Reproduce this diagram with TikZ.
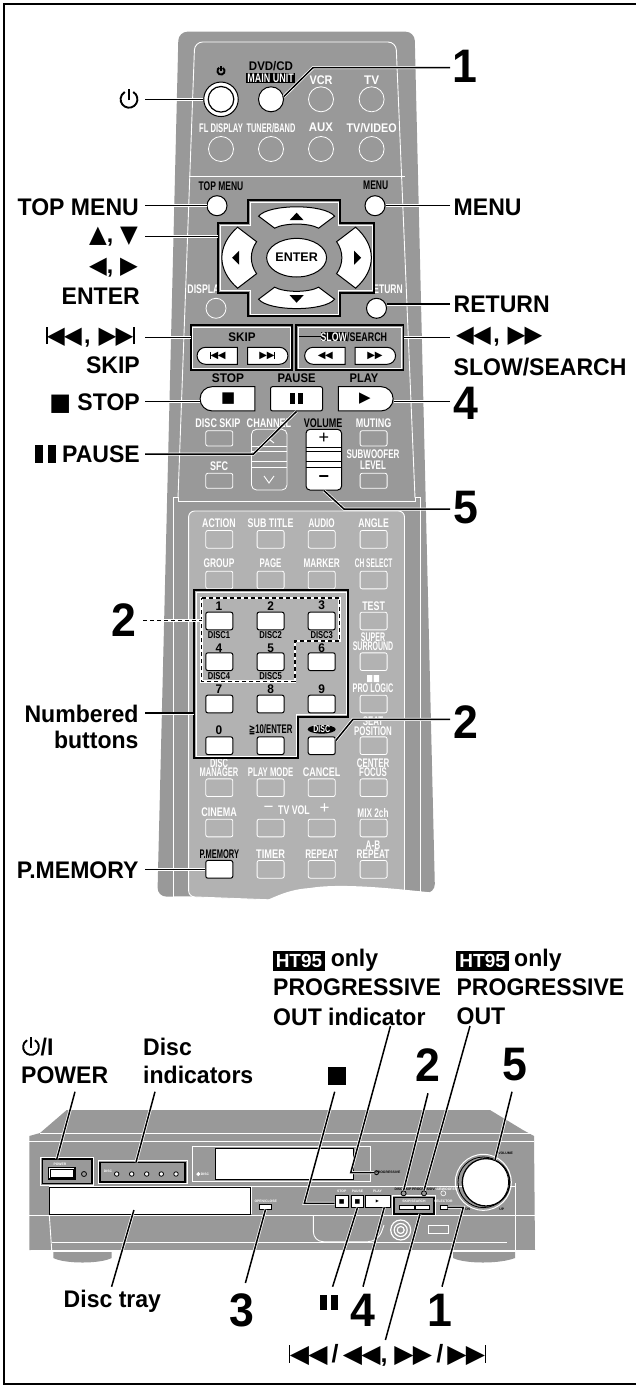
\documentclass[tikz,border=0pt]{standalone}
\usepackage{fontspec}
\setmainfont{Liberation Sans}
\newfontfamily\symfont{DejaVu Sans}
\usetikzlibrary{shapes.geometric, shapes.misc}
\definecolor{bodygray}{RGB}{153,153,153}
\definecolor{panelgray}{RGB}{178,178,178}
\newcommand{\glyphup}{{\symfont ▲}}
\newcommand{\glyphdown}{{\symfont ▼}}
\newcommand{\glyphleft}{{\symfont ◀}}
\newcommand{\glyphright}{{\symfont ▶}}
\newcommand{\glyphstop}{{\symfont ■}}
\newcommand{\rewtwo}{\glyphleft\kern-.03em\glyphleft}
\newcommand{\fwdtwo}{\glyphright\kern-.03em\glyphright}
\newcommand{\skipback}{\rule[-.02em]{.07em}{.72em}\kern-.02em\rewtwo}
\newcommand{\skipnext}{\fwdtwo\kern-.02em\rule[-.02em]{.07em}{.72em}}
\newcommand{\pausebars}{\rule{.34em}{.72em}\kern.2em\rule{.34em}{.72em}}
\tikzset{
    every node/.style={inner sep=0pt, font=\bfseries},
    biglab/.style={anchor=east, font=\bfseries\fontsize{24}{24}\selectfont, align=right, transform shape, xscale=.96},
    bigleft/.style={anchor=west, font=\bfseries\fontsize{24}{24}\selectfont, transform shape, xscale=.96},
    bignum/.style={font=\bfseries\fontsize{47}{47}\selectfont, transform shape, xscale=.95},
    lab/.style={text=white, font=\bfseries\fontsize{12.5}{12.5}\selectfont, align=center, transform shape, xscale=#1},
    lab/.default=.7,
    blab/.style={text=black, font=\bfseries\fontsize{12.5}{12.5}\selectfont, transform shape, xscale=#1},
    blab/.default=.9,
    disclab/.style={text=black, font=\bfseries\fontsize{10}{10}\selectfont, transform shape, xscale=.76},
    tinylab/.style={font=\bfseries\fontsize{3.4}{3.4}\selectfont},
    keybtn/.style={rectangle, rounded corners=2pt, draw=white, line width=.8pt, minimum width=27pt, minimum height=17.7pt},
    whitebtn/.style={keybtn, fill=white, draw=black, line width=1pt},
    roundbtn/.style={circle, draw=white, line width=.8pt, minimum size=25pt},
    whiteround/.style={roundbtn, fill=white, draw=black, line width=1pt},
    pillbtn/.style={rounded rectangle, fill=white, draw=black, line width=1pt, minimum height=17pt, minimum width=40.4pt, font=\fontsize{10}{10}\selectfont},
    bigbtn/.style={fill=white, draw=black, line width=1pt, minimum height=24.3pt, minimum width=54.8pt, font=\fontsize{15}{15}\selectfont},
    unitbtn/.style={rectangle, fill=white, draw=black, line width=.8pt, font=\fontsize{4}{4}\selectfont},
    led/.style={circle, fill=bodygray, draw=black, line width=.8pt, minimum size=5pt},
    lead/.style={draw=black, line width=1.5pt, line join=miter, preaction={draw=white, line width=3pt}},
    dashlead/.style={draw=black, line width=1.4pt, dash pattern=on 4pt off 3pt, preaction={draw=white, solid, line width=2.6pt}},
    frameblack/.style={draw=black, line width=1.6pt},
    framewhite/.style={draw=white, line width=.8pt},
    thinw/.style={draw=white, line width=.9pt},
    standby/.pic={
        \draw[line width=1.9pt, pic actions] (-60:8) arc[start angle=-60, end angle=240, radius=8];
        \draw[line width=1.9pt, pic actions] (0,1) -- (0,-10);
    }
}
\begin{document}
\begin{tikzpicture}[x=1pt, y=-1pt]
\useasboundingbox (0,0) rectangle (636,1388);
\fill[white] (0,0) rectangle (636,1388);
\draw[line width=2.4pt] (4,4) rectangle (639,1384);

% remote body
\fill[bodygray, rounded corners=9pt] (157.4,896.7) -- (178.5,31.7) -- (414.6,31.7) -- (435,893) -- cycle;
\draw[thinw, rounded corners=8pt] (178,498) -- (194.7,42) -- (396,42) -- (415,498);
\draw[thinw] (188.6,176.7) -- (404.5,176.7);
\draw[thinw] (173,900) -- (173,497) -- (178,497) -- (178,501.7) -- (415,501.7) -- (415,497) -- (420,497) -- (420,892);
\filldraw[fill=panelgray, draw=white, line width=.9pt, rounded corners=6pt] (188.6,896.7) -- (188.6,511) -- (404.5,511) -- (404.5,905) -- cycle;
\fill[white] (157.4,896.7) .. controls (190,906) and (225,912) .. (243,908) .. controls (270,902) and (280,890) .. (310,888) .. controls (340,883) and (390,888) .. (436,893) -- (436,925) -- (150,925) -- cycle;

% top buttons
\node[lab=.87] (labVcr) at (321,80) {VCR};
\node[lab=.94] (labTv) at (371.6,80) {TV};
\node[blab=.92] (labDvd) at (271,65.7) {DVD/CD};
\fill[black] (246,73.3) rectangle (295,82.7);
\node[lab=.72] (labMain) at (270.6,78) {MAIN UNIT};
\pic[draw=black, scale=.45, line width=.6pt] at (221,71) {standby};
\node[whiteround, minimum size=34.5pt] (btnPowerRing) at (221,99.3) {};
\node[whiteround, minimum size=25.6pt, line width=1.2pt] (btnPower) at (221,99.3) {};
\node[whiteround] (btnMain) at (271,99.3) {};
\node[roundbtn] (btnVcr) at (321,99.3) {};
\node[roundbtn] (btnTv) at (371.6,99.3) {};
\node[lab=.61] (labFl) at (221,127.7) {FL DISPLAY};
\node[lab=.59] (labTuner) at (271,127.7) {TUNER/BAND};
\node[lab=.91] (labAux) at (321,127.7) {AUX};
\node[lab=.86] (labTvv) at (371.6,127.7) {TV/VIDEO};
\node[roundbtn] (btnFl) at (221,149) {};
\node[roundbtn] (btnTuner) at (271,149) {};
\node[roundbtn] (btnAux) at (321,149) {};
\node[roundbtn] (btnTvv) at (371.6,149) {};

% menu buttons and cursor pad
\node[blab=.68] (labTop) at (221,185.7) {TOP MENU};
\node[blab=.68] (labMenu) at (375.7,185.7) {MENU};
\node[whiteround, minimum size=20pt] (btnTop) at (217,205.7) {};
\node[whiteround, minimum size=20pt] (btnMenu) at (375,205.7) {};
\node[lab=.7] (labDisplay) at (206,289) {DISPLAY};
\node[lab=.68] (labReturn) at (385,289) {RETURN};
\node[roundbtn, minimum size=20pt] (btnDisplay) at (216,308.3) {};
\node[whiteround, minimum size=20pt] (btnReturn) at (376.5,308.3) {};
\fill[bodygray] (248,200) -- (340,200) -- (340,223.3) -- (374,223.3) -- (374,292.7) -- (340,292.7) -- (340,316) -- (248,316) -- (248,292.7) -- (218,292.7) -- (218,223.3) -- (248,223.3) -- cycle;
\draw[framewhite] (250,202) -- (338,202) -- (338,225.3) -- (372,225.3) -- (372,290.7) -- (338,290.7) -- (338,314) -- (250,314) -- (250,290.7) -- (220,290.7) -- (220,225.3) -- (250,225.3) -- cycle;
\draw[frameblack] (248,200) -- (340,200) -- (340,223.3) -- (374,223.3) -- (374,292.7) -- (340,292.7) -- (340,316) -- (248,316) -- (248,292.7) -- (218,292.7) -- (218,223.3) -- (248,223.3) -- cycle;
\begin{scope}[shift={(296.6,257.7)}]
\filldraw[fill=white, line width=1pt] (-38,-41.5) .. controls (-28,-54) and (28,-54) .. (38,-41.5) -- (22,-29.5) .. controls (12,-35) and (-12,-35) .. (-22,-29.5) -- cycle;
\filldraw[fill=white, line width=1pt] (-38,41.5) .. controls (-28,54) and (28,54) .. (38,41.5) -- (22,29.5) .. controls (12,35) and (-12,35) .. (-22,29.5) -- cycle;
\filldraw[fill=white, line width=1pt] (-59,-30.5) .. controls (-80,-12) and (-80,12) .. (-59,30.5) -- (-40,16) .. controls (-47,6) and (-47,-6) .. (-40,-16) -- cycle;
\filldraw[fill=white, line width=1pt] (59,-30.5) .. controls (80,-12) and (80,12) .. (59,30.5) -- (40,16) .. controls (47,6) and (47,-6) .. (40,-16) -- cycle;
\fill (0,-45) -- (7,-37.5) -- (-7,-37.5) -- cycle;
\fill (0,45) -- (7,37.5) -- (-7,37.5) -- cycle;
\fill (-64.5,0) -- (-57.5,-7) -- (-57.5,7) -- cycle;
\fill (64.5,0) -- (57.5,-7) -- (57.5,7) -- cycle;
\end{scope}
\node[ellipse, fill=white, draw=black, line width=1pt, minimum width=56.8pt, minimum height=38.6pt, font=\bfseries\fontsize{12.5}{12.5}\selectfont] (btnEnter) at (296.6,257.7) {ENTER};

% skip and search
\draw[framewhite] (192.7,327) rectangle (290,368);
\draw[framewhite] (298,327) rectangle (401.6,368);
\draw[frameblack] (190.7,325) rectangle (292,370);
\draw[frameblack] (296,325) rectangle (403.6,370);
\node[blab=.93] (labSkip) at (242,336.7) {SKIP};
\draw[line width=1pt] (299,336.7) -- (320.5,336.7);
\fill[black] (320.5,332) rectangle (347,341.4);
\node[lab=.7] (labSlow) at (333.7,336.7) {SLOW};
\node[blab=.71, anchor=west] (labSearch) at (347,336.7) {/SEARCH};
\node[pillbtn, rounded rectangle east arc=none] (btnPrev) at (217.8,355.8) {\skipback};
\node[pillbtn, rounded rectangle west arc=none] (btnNext) at (267.2,355.8) {\skipnext};
\node[pillbtn, rounded rectangle east arc=none] (btnRew) at (325.3,355.8) {\rewtwo};
\node[pillbtn, rounded rectangle west arc=none] (btnFwd) at (374.9,355.8) {\fwdtwo};

% transport row
\node[blab=.95] (labStop) at (228,377.7) {STOP};
\node[blab=.9] (labPause) at (296.6,377.7) {PAUSE};
\node[blab=.89] (labPlay) at (364,377.7) {PLAY};
\node[bigbtn, rounded rectangle, rounded rectangle east arc=none] (btnStop) at (228.2,398.8) {\glyphstop};
\node[bigbtn, rectangle, rounded corners=2pt, minimum width=52pt] (btnPause) at (296.5,398.8) {\pausebars};
\node[bigbtn, rounded rectangle, rounded rectangle west arc=none] (btnPlay) at (365,398.8) {\glyphright};

% lower part of upper panel
\node[lab=.72] (labDskip) at (218,422.7) {DISC SKIP};
\node[lab=.73] (labChannel) at (269,422.7) {CHANNEL};
\node[blab=.72] (labVolume) at (323,422.7) {VOLUME};
\node[lab=.72] (labMuting) at (373.6,422.7) {MUTING};
\node[keybtn, minimum height=15.3pt] (btnDskip) at (219.3,438.4) {};
\node[keybtn, minimum height=15.3pt] (btnMuting) at (373.6,438.4) {};
\node[lab=.72] (labSfc) at (219,466) {SFC};
\node[lab=.64] (labSub) at (373,459.8) {SUBWOOFER\\[-.9pt]LEVEL};
\node[keybtn, minimum height=15pt] (btnSfc) at (219.3,480.8) {};
\node[keybtn, minimum height=15pt] (btnLevel) at (373.6,480.8) {};
\draw[framewhite, rounded corners=5pt] (251.5,429.3) rectangle (287,490);
\draw[thinw] (251.5,446.7) -- (287,446.7) (251.5,451.7) -- (287,451.7) (251.5,461.7) -- (287,461.7) (251.5,467.7) -- (287,467.7);
\draw[thinw] (264,443) -- (269,439) -- (274,443) (264,476) -- (269,483) -- (274,476);
\node[rectangle, rounded corners=4pt, fill=white, draw=black, line width=1pt, minimum width=35.6pt, minimum height=60.7pt] (btnVolume) at (323.8,459.7) {};
\draw[line width=.9pt] (306,447.3) -- (341.6,447.3) (306,451.7) -- (341.6,451.7) (306,461.7) -- (341.6,461.7) (306,467.7) -- (341.6,467.7);
\node[font=\fontsize{18}{18}\selectfont] (labPlus) at (323.8,438) {+};
\node[font=\bfseries\fontsize{18}{18}\selectfont] (labMinus) at (323.8,479) {−};

% key grid
\foreach \nm/\cy in {A/539.3, B/580, G/787.7, H/828}{
  \foreach \col/\cx in {a/219.3, b/270.6, c/321.7, d/373.6}{
    \node[keybtn] (btn\nm\col) at (\cx,\cy) {};
  }
}
\foreach \nm/\cy in {C/621, D/661.7, E/704, F/745.7}{
  \foreach \col/\cx in {a/219.3, b/270.6, c/321.7}{
    \node[whitebtn] (btn\nm\col) at (\cx,\cy) {};
  }
  \node[keybtn] (btn\nm d) at (373.6,\cy) {};
}
\node[whitebtn] (btnIa) at (219.3,869.3) {};
\foreach \col/\cx in {b/270.6, c/321.7, d/373.6}{
  \node[keybtn] (btnI\col) at (\cx,869.3) {};
}
\foreach \cx/\cy/\txt/\sx [count=\i] in {219/522.7/ACTION/.7, 270.6/522.7/SUB TITLE/.71, 321.7/522.7/AUDIO/.65, 373.6/522.7/ANGLE/.7,
    219/563.3/GROUP/.67, 270.6/563.3/PAGE/.63, 321.7/563.3/MARKER/.66, 373.6/563.3/CH SELECT/.53,
    373.6/605.7/TEST/.71, 373/642/{SUPER\\[-3.4pt]SURROUND}/.56, 373/688/PRO LOGIC/.58,
    373/726.2/{SEAT\\[-3.4pt]POSITION}/.63,
    219/767.5/{DISC\\[-3.4pt]MANAGER}/.6, 270.6/772/PLAY MODE/.62, 321.7/772/CANCEL/.72, 373/767.5/{CENTER\\[-3.4pt]FOCUS}/.63,
    219/811.7/CINEMA/.72, 294/810/TV VOL/.7, 373/812.7/MIX 2ch/.66,
    270.6/854/TIMER/.74, 321.7/854/REPEAT/.66, 373/849.5/{A-B\\[-3.4pt]REPEAT}/.66}{
  \node[lab=\sx] (lab\i) at (\cx,\cy) {\txt};
}
\node[lab=1, font=\fontsize{17}{17}\selectfont] (labTvMinus) at (268.5,809) {−};
\node[lab=1, font=\fontsize{17}{17}\selectfont] (labTvPlus) at (324.5,809) {+};
\fill[white] (367,675) rectangle (372.4,682) (373.6,675) rectangle (379,682);
\foreach \cx/\cy/\txt [count=\i] in {219/605.7/1, 270.6/605.7/2, 321.7/605.7/3, 219/648/4, 270.6/648/5, 321.7/648/6, 219/689/7, 270.6/689/8, 321.7/689/9, 219/730/0}{
  \node[blab=.95] (num\i) at (\cx,\cy) {\txt};
}
\foreach \cx/\cy/\txt [count=\i] in {219/635/DISC1, 270.6/635/DISC2, 321.7/635/DISC3, 219/676/DISC4, 270.6/676/DISC5}{
  \node[disclab] (sub\i) at (\cx,\cy) {\txt};
}
\node[blab=.62] (labTen) at (270.6,730) {{\symfont ≧}10/ENTER};
\node[ellipse, fill=black, minimum width=28pt, minimum height=8.6pt] (ovalDisc) at (321.7,729.3) {};
\node[lab=.7, font=\bfseries\fontsize{10}{10}\selectfont] (labDisc) at (321.7,729.3) {DISC};
\node[blab=.6] (labPmem) at (219.3,854) {P.MEMORY};

% number frames
\draw[frameblack] (194,590) -- (348,590) -- (348,716.7) -- (298,716.7) -- (298,758) -- (194,758) -- cycle;
\draw[framewhite] (196,592) -- (346,592) -- (346,714.7) -- (296,714.7) -- (296,756) -- (196,756) -- cycle;
\draw[dashlead] (201.6,598) -- (339.6,598) -- (339.6,641) -- (295,641) -- (295,681.7) -- (201.6,681.7) -- cycle;

% callouts on the left of the remote
\pic[draw=black, scale=1.05] at (129,99.3) {standby};
\coordinate (endStandby) at (145,99.3);
\node[biglab] (callTop) at (139,207) {TOP MENU};
\node[biglab] (callUp) at (138,237) {\glyphup,\kern.3em\glyphdown};
\node[biglab] (callLeft) at (138,268) {\glyphleft,\kern.3em\glyphright};
\node[biglab] (callEnter) at (140,296.7) {ENTER};
\node[biglab] (callPrev) at (134.7,337) {\skipback\kern.1em,\kern.35em\skipnext};
\node[biglab] (callSkip) at (140,365) {SKIP};
\node[biglab] (callStop) at (140,404) {\glyphstop\ STOP};
\node[biglab] (callPause) at (140,454) {\pausebars\ PAUSE};
\node[bignum] (callTwoA) at (123.7,620) {2};
\node[biglab] (callNum) at (138.7,726.7) {Numbered\\[2pt]buttons};
\node[biglab] (callMem) at (138.7,870) {P.MEMORY};
\coordinate (endTop) at (145,205.7);
\coordinate (endUp) at (145,236.7);
\coordinate (endPrev) at (145,337.3);
\coordinate (endStop) at (145,401.7);
\coordinate (endPause) at (145,454);
\coordinate (bendPause) at (253.5,454);
\coordinate (endTwoA) at (143,620.7);
\coordinate (endNum) at (145,713);
\coordinate (endMem) at (145,869.5);
\draw[lead] (endStandby) -- (btnPowerRing.west);
\draw[lead] (endTop) -- (btnTop.west);
\draw[lead] (endUp) -- (218,236.7);
\draw[lead] (endPrev) -- (190.7,337.3);
\draw[lead] (endStop) -- (endStop -| btnStop.west);
\draw[lead] (endPause) -- (bendPause) -- (btnPause.south);
\draw[dashlead] (endTwoA) -- (201.6,620.7);
\draw[lead] (endNum) -- (194,713);
\draw[lead] (endMem) -- (btnIa.west |- endMem);

% callouts on the right of the remote
\node[bignum] (callOneA) at (464.5,66.7) {1};
\node[bigleft] (callMenu) at (453.5,207) {MENU};
\node[bigleft] (callReturn) at (453.5,304) {RETURN};
\node[bigleft] (callRew) at (456,337) {\rewtwo\kern.1em,\kern.35em\fwdtwo};
\node[bigleft] (callSlow) at (453.5,366.7) {SLOW/SEARCH};
\node[bignum] (callFourA) at (465.7,403) {4};
\node[bignum] (callFiveA) at (465.7,508) {5};
\node[bignum] (callTwoB) at (465.7,721.7) {2};
\coordinate (endOne) at (450,67.7);
\coordinate (bendOne) at (313,67.7);
\coordinate (endMenu) at (450,205.7);
\coordinate (endReturn) at (450,304);
\coordinate (endRew) at (449.5,337.3);
\coordinate (endFour) at (450,401.7);
\coordinate (endFive) at (450,509);
\coordinate (bendFive) at (344,509);
\coordinate (endTwoB) at (450,719.3);
\coordinate (bendTwoB) at (353,719.3);
\draw[lead] (endOne) -- (bendOne) -- (btnMain.12);
\draw[lead] (endMenu) -- (btnMenu.east);
\draw[lead] (endReturn) -- (btnReturn.east |- endReturn);
\draw[lead] (endRew) -- (403.6,337.3);
\draw[lead] (endFour) -- (endFour -| btnPlay.east);
\draw[lead] (endFive) -- (bendFive) -- (btnVolume.south);
\draw[lead] (endTwoB) -- (bendTwoB) -- (btnFc.20);

% front unit
\fill[bodygray] (29.3,1250) -- (29.3,1136) -- (40,1133) -- (66.7,1110) -- (490,1110) -- (523,1130) -- (534,1136) -- (535,1250) -- cycle;
\fill[bodygray] (53.3,1250) -- (111.7,1250) -- (111.7,1258) .. controls (100,1264) and (65,1264) .. (53.3,1258) -- cycle;
\fill[bodygray] (453,1250) -- (515,1250) -- (515,1258) .. controls (500,1264) and (465,1264) .. (453,1258) -- cycle;
\draw[thinw] (40,1133.3) -- (531,1133.3);
\draw[thinw] (29.3,1141.7) -- (534,1141.7);
\draw[thinw] (29.3,1215) -- (535,1215);
\draw[thinw] (49.3,1215) -- (51.7,1250);
\draw[thinw] (51.7,1242.7) -- (506.7,1242.7);
\draw[thinw] (515,1183) -- (515,1252);
\draw[draw=white, line width=2pt] (31,1251) -- (535,1251);
\draw[thinw] (49,1186) -- (515,1186);
\draw[thinw] (251.7,1186) -- (251.7,1214.3);
\draw[thinw, rounded corners=10pt] (313.3,1216) -- (313.3,1241.7) -- (378,1241.7) -- (384,1225);
\draw[framewhite] (192.7,1146.7) rectangle (370.7,1181);
% power and disc panels
\draw[framewhite] (40.5,1157) rectangle (93.5,1185.3);
\draw[frameblack] (42.3,1159) rectangle (91.7,1183.3);
\node[unitbtn, minimum width=26.7pt, minimum height=11.3pt, line width=1.2pt] (unitPower) at (61.7,1173.3) {};
\draw[black, line width=.6pt] (50.3,1169.7) rectangle (73,1177);
\node[led] (ledPower) at (84,1174) {};
\node[tinylab, text=white] (labUnitPower) at (60,1164) {POWER};
\draw[framewhite] (98,1160.3) rectangle (187,1183.7);
\draw[frameblack] (100,1162.3) rectangle (185,1181.7);
\foreach \cx [count=\i] in {116.7,131.7,146.7,161.3,176}{
  \node[led, minimum size=4.5pt, fill=white] (ledDisc\i) at (\cx,1174) {};
}
\node[tinylab, text=white] (labUnitDisc) at (108,1171.7) {DISC};
% display and tray
\node[rectangle, fill=white, draw=black, line width=1pt, minimum width=138.3pt, minimum height=31pt] (unitDisplay) at (284.2,1163.8) {};
\node[led, fill=white, draw=white, minimum size=3pt] (ledScan) at (198.3,1174) {};
\node[tinylab, text=white] (labScan) at (205,1174) {DISC};
\node[led, minimum size=4pt] (ledProg) at (376.5,1172.7) {};
\node[tinylab, text=black] (labProg) at (388,1172.7) {PROGRESSIVE};
\node[rectangle, fill=white, draw=black, line width=1pt, minimum width=201.4pt, minimum height=27pt] (unitTray) at (150,1200.8) {};
\node[unitbtn, minimum width=12.4pt, minimum height=4.3pt] (unitOpen) at (265.5,1207) {};
\node[tinylab, text=white] (labOpen) at (265.7,1201) {OPEN/CLOSE};
% transport on the unit
\draw[thinw] (304,1203.3) -- (335,1203.3);
\node[unitbtn, minimum width=13.3pt, minimum height=11.6pt, font=\fontsize{6}{6}\selectfont] (unitStop) at (341.7,1201.5) {\glyphstop};
\node[unitbtn, minimum width=11.6pt, minimum height=11.6pt, font=\fontsize{6}{6}\selectfont] (unitPause) at (357.5,1201.5) {\glyphstop};
\node[unitbtn, minimum width=25pt, minimum height=11.6pt] (unitPlay) at (377.5,1201.5) {\glyphright};
\node[tinylab, text=white] (labUnitStop) at (341.7,1191.7) {STOP};
\node[tinylab, text=white] (labUnitPause) at (357.5,1191.7) {PAUSE};
\node[tinylab, text=white] (labUnitPlay) at (377.5,1191.7) {PLAY};
\draw[framewhite] (392.4,1195.7) rectangle (435.6,1215.6);
\draw[frameblack] (394,1197.3) rectangle (434,1214);
\node[unitbtn, minimum width=14.7pt, minimum height=4.3pt] (unitPrev) at (406.6,1207.1) {};
\node[unitbtn, minimum width=14.3pt, minimum height=4.3pt] (unitNext) at (422.1,1207.1) {};
\node[tinylab, text=white] (labUnitSkip) at (414,1201.7) {SKIP/SEARCH};
\node[led] (ledSkip) at (403.6,1193.3) {};
\node[led] (ledOut) at (424,1193.3) {};
\node[led, draw=white, line width=.6pt] (ledSub) at (443.3,1193.3) {};
\node[tinylab, text=black] (labUnitSkipTwo) at (403,1189.3) {DISC SKIP};
\node[tinylab, text=black] (labUnitOut) at (424.5,1189.3) {PROGRESSIVE};
\node[tinylab, text=white] (labUnitSub) at (446,1189.3) {SUBWOOFER};
\node[unitbtn, minimum width=7.3pt, minimum height=4pt] (unitSelect) at (443.6,1207) {};
\node[tinylab, text=white] (labUnitSelect) at (443.3,1201.7) {SELECTOR};
% knob and jack
\draw[line width=1pt, draw=white] (483.3,1182.3) circle[radius=28];
\node[circle, fill=white, draw=black, line width=1.3pt, minimum size=47.4pt] (unitKnob) at (486,1182.3) {};
\draw[black, line width=.8pt] (483.3,1182.3) circle[radius=25.3];
\node[tinylab, text=black] (labUnitVol) at (505.7,1153) {VOLUME};
\node[tinylab, text=black] (labUnitDn) at (467.7,1209) {DN};
\node[tinylab, text=black] (labUnitUp) at (501.7,1209) {UP};
\draw[draw=white, line width=1.2pt] (400.7,1230) circle[radius=10] (400.7,1230) circle[radius=6.5] (400.7,1230) circle[radius=3.5];
\draw[framewhite] (428.3,1225) rectangle (448.3,1233.3);

% callouts above the unit
\fill[black] (273,950.7) rectangle (325,970.7);
\fill[black] (456.4,950.7) rectangle (509,970.7);
\node[lab=1, font=\bfseries\fontsize{19}{19}\selectfont] (labHtA) at (299,960.7) {HT95};
\node[lab=1, font=\bfseries\fontsize{19}{19}\selectfont] (labHtB) at (482.7,960.7) {HT95};
\node[bigleft] (callOnlyA) at (330.6,960) {only};
\node[bigleft] (callOnlyB) at (514,960) {only};
\node[bigleft] (callProgA) at (273,987) {PROGRESSIVE};
\node[bigleft] (callProgB) at (456.4,987) {PROGRESSIVE};
\node[bigleft] (callOutA) at (273,1016.7) {OUT indicator};
\node[bigleft] (callOutB) at (456.4,1016.7) {OUT};
\pic[draw=black, scale=.98] at (31,1047) {standby};
\node[bigleft] (callI) at (40.5,1046.7) {/I};
\node[bigleft] (callPower) at (21,1075) {POWER};
\node[bigleft] (callDisc) at (143,1046.7) {Disc};
\node[bigleft] (callInd) at (143,1075) {indicators};
\node[rectangle, fill=black, minimum size=18pt] (callSquare) at (336.7,1075.7) {};
\node[bignum] (callTwoC) at (428,1065) {2};
\node[bignum] (callFiveB) at (515,1065) {5};
\coordinate (endPower) at (75,1091.7);
\coordinate (endDisc) at (155,1091.7);
\coordinate (endSquare) at (334.7,1091.7);
\coordinate (bendSquare) at (304.3,1203.3);
\coordinate (endProgA) at (390.5,1026);
\coordinate (bendProgA) at (350.7,1172.7);
\coordinate (endProgB) at (470,1026);
\coordinate (endTwoC) at (428,1093.3);
\coordinate (endFiveB) at (512,1091.7);
\draw[lead] (endPower) -- (56.8,1159);
\draw[lead] (endDisc) -- (136,1162.3);
\draw[lead] (endSquare) -- (bendSquare) -- (unitStop.west |- bendSquare);
\draw[lead] (endProgA) -- (bendProgA) -- (ledProg.west);
\draw[lead] (endProgB) -- (ledOut.north);
\draw[lead] (endTwoC) -- (ledSkip.north);
\draw[lead] (endFiveB) -- (495,1160);

% callouts below the unit
\node[bigleft, anchor=center] (callTray) at (112.4,1301.7) {Disc tray};
\node[bignum] (callThree) at (242,1310) {3};
\node[font=\bfseries\fontsize{21}{21}\selectfont] (callBars) at (329,1302.5) {\pausebars};
\node[bignum] (callFourB) at (363,1310) {4};
\node[bignum] (callOneB) at (440,1310) {1};
\node[anchor=center, font=\bfseries\fontsize{25}{25}\selectfont] (callSkipBar) at (387.5,1355) {\skipback\,/\,\rewtwo, \fwdtwo\,/\,\skipnext};
\coordinate (endTray) at (111.6,1286.7);
\coordinate (endThree) at (245.4,1283);
\coordinate (endBars) at (332.6,1286.7);
\coordinate (endFourB) at (363,1286.7);
\coordinate (endOneB) at (442,1286.7);
\coordinate (bendOneB) at (463.3,1207.3);
\coordinate (endSkipBar) at (385.4,1340);
\draw[lead] (endTray) -- (133.9,1210);
\draw[lead] (endThree) -- (unitOpen.south);
\draw[lead] (endBars) -- (unitPause.south);
\draw[lead] (endFourB) -- (384.3,1207.3);
\draw[lead] (endSkipBar) -- (420,1214);
\draw[lead] (endOneB) -- (bendOneB) -- (unitSelect.east |- bendOneB);
\end{tikzpicture}
\end{document}
